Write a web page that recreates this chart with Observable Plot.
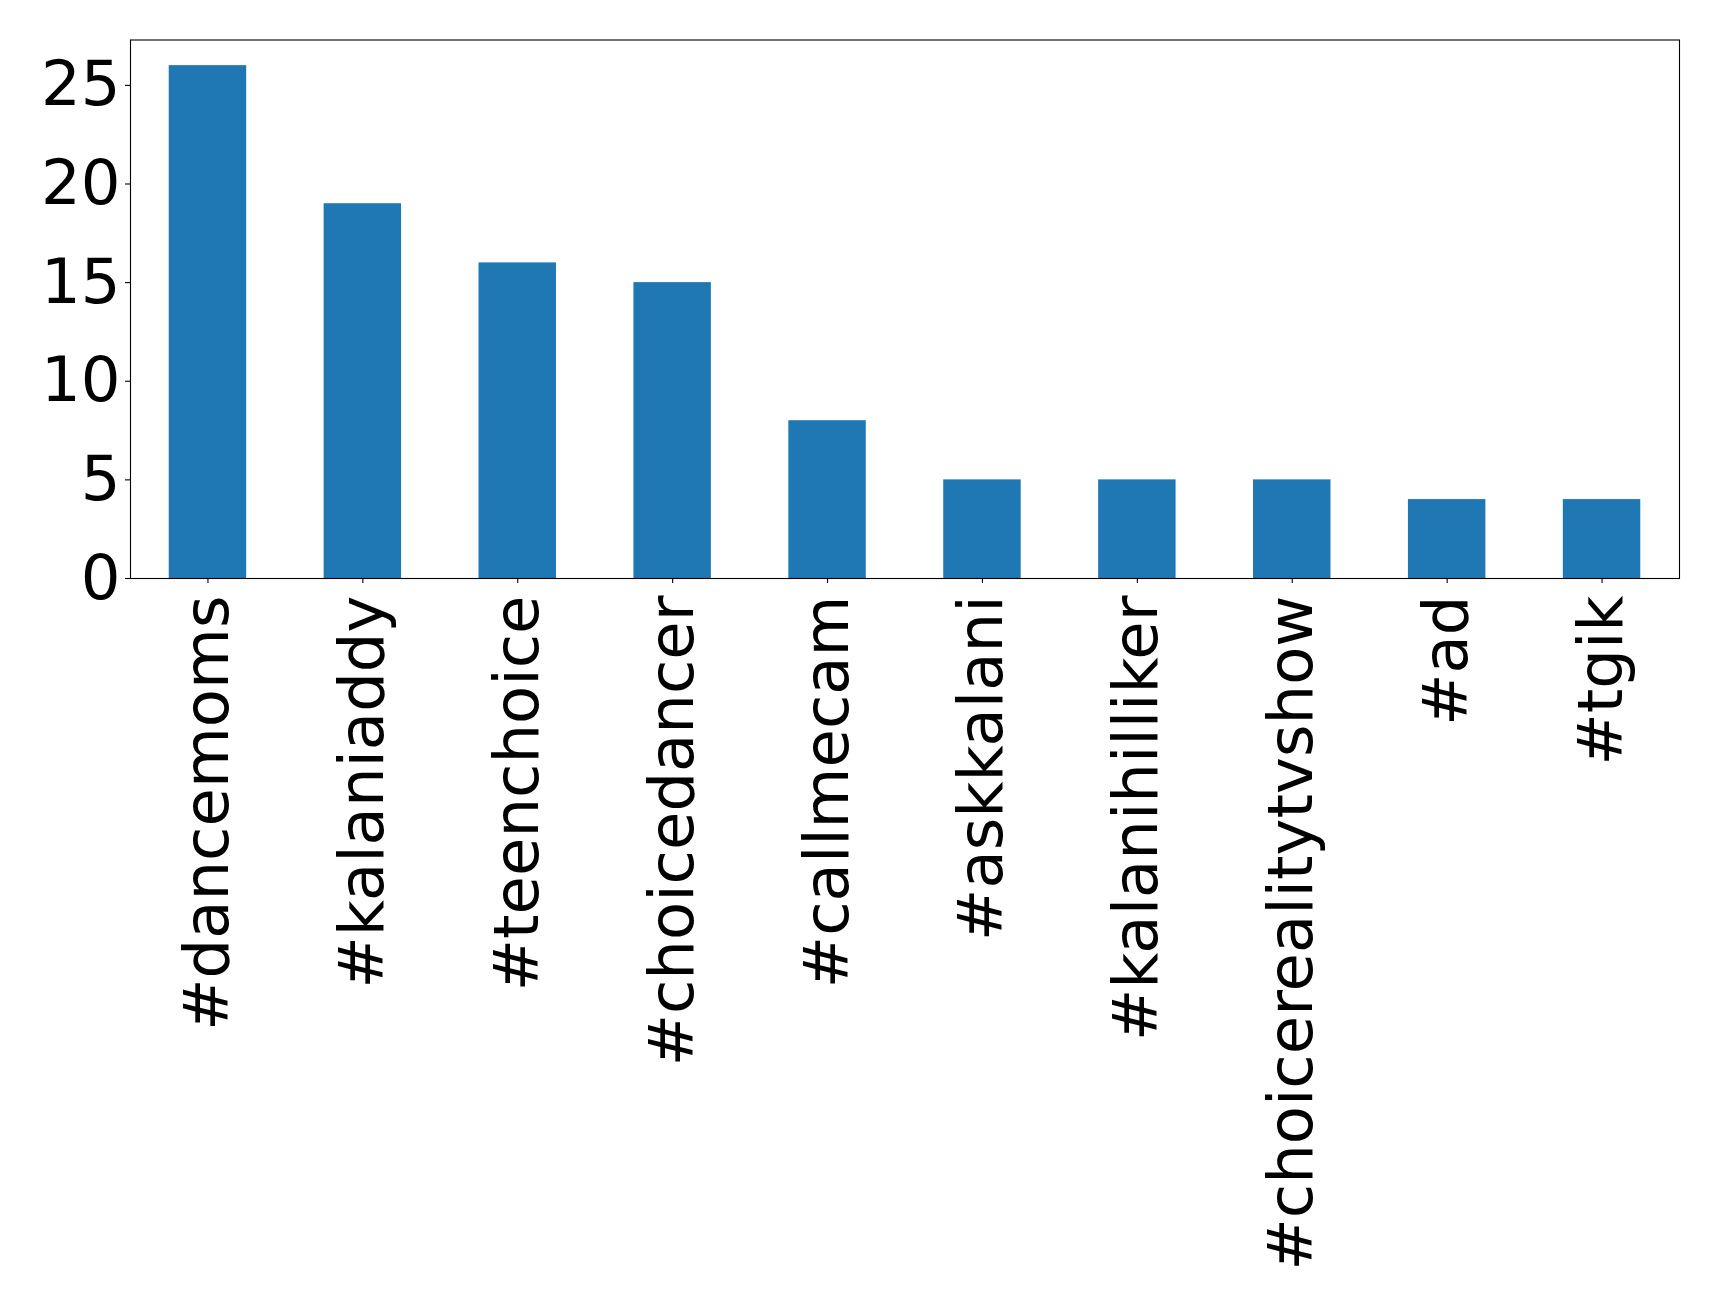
<!DOCTYPE html>
<html>
<head>
<meta charset="utf-8">
<script src="https://cdn.jsdelivr.net/npm/d3@7"></script>
<script src="https://cdn.jsdelivr.net/npm/@observablehq/plot@0.6"></script>
<style>
  html, body { margin: 0; padding: 0; background: #fff; }
  svg { display: block; }
</style>
</head>
<body>
<div id="chart"></div>
<script>
const hashtags = ["#dancemoms", "#kalaniaddy", "#teenchoice", "#choicedancer", "#callmecam", "#askkalani", "#kalanihilliker", "#choicerealitytvshow", "#ad", "#tgik"];
const counts = [26, 19, 16, 15, 8, 5, 5, 5, 4, 4];
const yTicks = [0, 5, 10, 15, 20, 25];

const data = hashtags.map((h, i) => ({tag: h, count: counts[i]}));
const fs = 62.5;

const chart = Plot.plot({
  width: 1719,
  height: 1303,
  marginLeft: 130,
  marginRight: 40,
  marginTop: 39.5,
  marginBottom: 725,
  style: {fontFamily: "DejaVu Sans", color: "black", background: "white"},
  x: {domain: hashtags, paddingInner: 0.5, paddingOuter: 0.25, align: 0.5, round: false},
  y: {domain: [0, 27.3]},
  marks: [
    Plot.barY(data, {x: "tag", y: "count", fill: "#1f77b4"}),
    Plot.frame({stroke: "black", strokeWidth: 1.1}),
    Plot.axisY({ticks: yTicks, tickSize: 5, tickPadding: 5, fontSize: fs, label: null, stroke: "black", strokeWidth: 1.1}),
    Plot.axisX({tickRotate: -90, tickSize: 5, tickPadding: 12, fontSize: fs, label: null, stroke: "black", strokeWidth: 1.1})
  ]
});
document.getElementById("chart").appendChild(chart);
</script>
</body>
</html>
